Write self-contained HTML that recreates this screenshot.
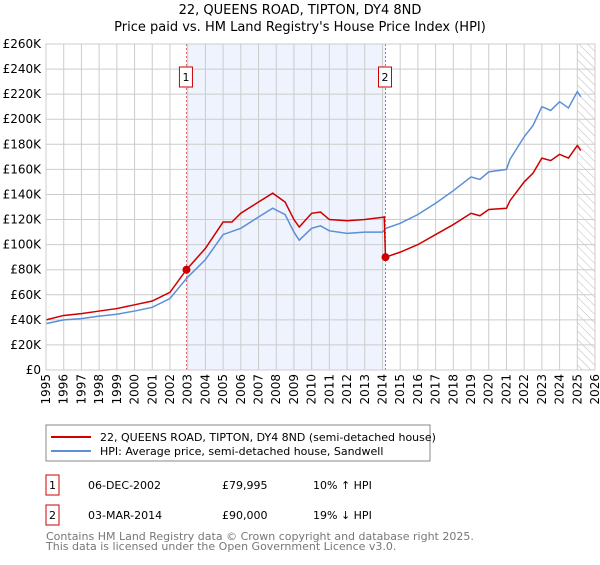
<!DOCTYPE html>
<html><head><meta charset="utf-8"><style>
body{margin:0;background:#fff;font-family:"Liberation Sans","DejaVu Sans",sans-serif;}
svg text{font-family:"DejaVu Sans","Liberation Sans",sans-serif;}
</style></head><body>
<svg id="chart" width="600" height="560" viewBox="0 0 600 560" xmlns="http://www.w3.org/2000/svg">
<text x="300" y="14" text-anchor="middle" font-size="13">22, QUEENS ROAD, TIPTON, DY4 8ND</text>
<text x="300" y="31" text-anchor="middle" font-size="13">Price paid vs. HM Land Registry's House Price Index (HPI)</text>
<g id="plot"></g>
<g>
<rect x="46" y="425" width="384" height="36" fill="#fff" stroke="#888"/>
<line x1="51" y1="437" x2="91" y2="437" stroke="#cc0000" stroke-width="2"/>
<text x="100" y="441" font-size="11">22, QUEENS ROAD, TIPTON, DY4 8ND (semi-detached house)</text>
<line x1="51" y1="451" x2="91" y2="451" stroke="#5b8fd6" stroke-width="2"/>
<text x="100" y="455" font-size="11">HPI: Average price, semi-detached house, Sandwell</text>
</g>
<g font-size="11">
<rect x="46" y="475" width="13" height="20" fill="#fff" stroke="#cc0000"/>
<text x="52.5" y="489" text-anchor="middle">1</text>
<text x="88" y="489">06-DEC-2002</text><text x="222" y="489">£79,995</text><text x="313" y="489">10% ↑ HPI</text>
<rect x="46" y="505" width="13" height="20" fill="#fff" stroke="#cc0000"/>
<text x="52.5" y="519" text-anchor="middle">2</text>
<text x="88" y="519">03-MAR-2014</text><text x="222" y="519">£90,000</text><text x="313" y="519">19% ↓ HPI</text>
</g>
<text x="46" y="540" font-size="11" fill="#777">Contains HM Land Registry data © Crown copyright and database right 2025.</text>
<text x="46" y="550" font-size="11" fill="#777">This data is licensed under the Open Government Licence v3.0.</text>
</svg>
<script>
const yTicks=[0,20,40,60,80,100,120,140,160,180,200,220,240,260];
const years=[1995,1996,1997,1998,1999,2000,2001,2002,2003,2004,2005,2006,2007,2008,2009,2010,2011,2012,2013,2014,2015,2016,2017,2018,2019,2020,2021,2022,2023,2024,2025,2026];
const hpiT=[1995,1996,1997,1998,1999,2000,2001,2002,2002.93,2004,2005,2006,2007,2007.8,2008.5,2009,2009.3,2010,2010.5,2011,2012,2013,2014,2014.2,2015,2016,2017,2018,2019,2019.5,2020,2021,2021.2,2022,2022.5,2023,2023.5,2024,2024.5,2025,2025.2];
const hpiV=[37,40,41,43,44.5,47,50,57,73,88,108,113,122,129,124,110,103.5,113,115,111,109,110,110,113,117,124,133,143,154,152,158,160,168,186,195,210,207,214,209,222,218];
const redT=[1995,1996,1997,1998,1999,2000,2001,2002,2002.93,2004,2005,2005.5,2006,2007,2007.8,2008.5,2009,2009.3,2010,2010.5,2011,2012,2013,2014.1,2014.17,2015,2016,2017,2018,2019,2019.5,2020,2021,2021.2,2022,2022.5,2023,2023.5,2024,2024.5,2025,2025.2];
const redV=[40,43.5,45,47,49,52,55,62,80,97,118,118,125,134,141,134,120,114,125,126,120,119,120,122,90,94,100,108,116,125,123,128,129,135,150,157,169,167,172,169,179,175];
const saleT=[2002.93,2014.17];
const saleV=[79.995,90];
const saleLabels=["1","2"];
const X0=46,X1=595,Y0=370,Y1=44;
const x=t=>X0+(t-1995)/(2026-1995)*(X1-X0);
const y=v=>Y0-v/260*(Y0-Y1);
const NS="http://www.w3.org/2000/svg";
const g=document.getElementById('plot');
function mk(tag,attrs,parent){const e=document.createElementNS(NS,tag);for(const k in attrs)e.setAttribute(k,attrs[k]);(parent||g).appendChild(e);return e;}
let e=mk('rect',{x:x(saleT[0]),y:Y1,width:x(saleT[1])-x(saleT[0]),height:Y0-Y1,fill:'#eef3fd'});


const defs=mk('defs',{});
const pat=mk('pattern',{id:'hatch',width:6,height:6,patternUnits:'userSpaceOnUse',patternTransform:'rotate(-45)'},defs);
mk('line',{x1:0,y1:0,x2:0,y2:6,stroke:'#bbb','stroke-width':1},pat);
e=mk('rect',{x:x(2025),y:Y1,width:X1-x(2025),height:Y0-Y1,fill:'url(#hatch)'});


yTicks.forEach(v=>{
 let l=mk('line',{x1:X0,x2:X1,y1:y(v),y2:y(v),stroke:'#ccc'});
 
 
 let t=mk('text',{x:X0-5,y:y(v)+4,'text-anchor':'end','font-size':12});
 
 
 t.textContent='£'+(v===0?'0':v+'K');
});
years.forEach(yr=>{
 let l=mk('line',{x1:x(yr),x2:x(yr),y1:Y1,y2:Y0,stroke:'#ccc'});
 
 
 let t=mk('text',{x:0,y:0,'text-anchor':'end','font-size':12,transform:`translate(${x(yr)+4},${Y0+4}) rotate(-90)`});
 
 
 t.textContent=yr;
});
saleT.forEach((t,i)=>{
 let l=mk('line',{x1:x(t),x2:x(t),y1:Y1,y2:Y0,stroke:'#e06060','stroke-dasharray':'2,2'});
 
 
});
let p=mk('polyline',{points:hpiT.map((t,i)=>x(t)+','+y(hpiV[i])).join(' '),fill:'none',stroke:'#5b8fd6','stroke-width':1.5});


p=mk('polyline',{points:redT.map((t,i)=>x(t)+','+y(redV[i])).join(' '),fill:'none',stroke:'#cc0000','stroke-width':1.5});


saleT.forEach((t,i)=>{
 let c=mk('circle',{cx:x(t),cy:y(saleV[i]),r:4,fill:'#cc0000'});
 
 
 let r=mk('rect',{x:x(t)-7,y:67,width:13,height:20,fill:'#fff',stroke:'#cc0000'});
 
 
 let tx=mk('text',{x:x(t)-0.5,y:81,'text-anchor':'middle','font-size':11});
 
 
 tx.textContent=saleLabels[i];
});
e=mk('rect',{x:X0,y:Y1,width:X1-X0,height:Y0-Y1,fill:'none',stroke:'#ccc'});


</script>
</body></html>
